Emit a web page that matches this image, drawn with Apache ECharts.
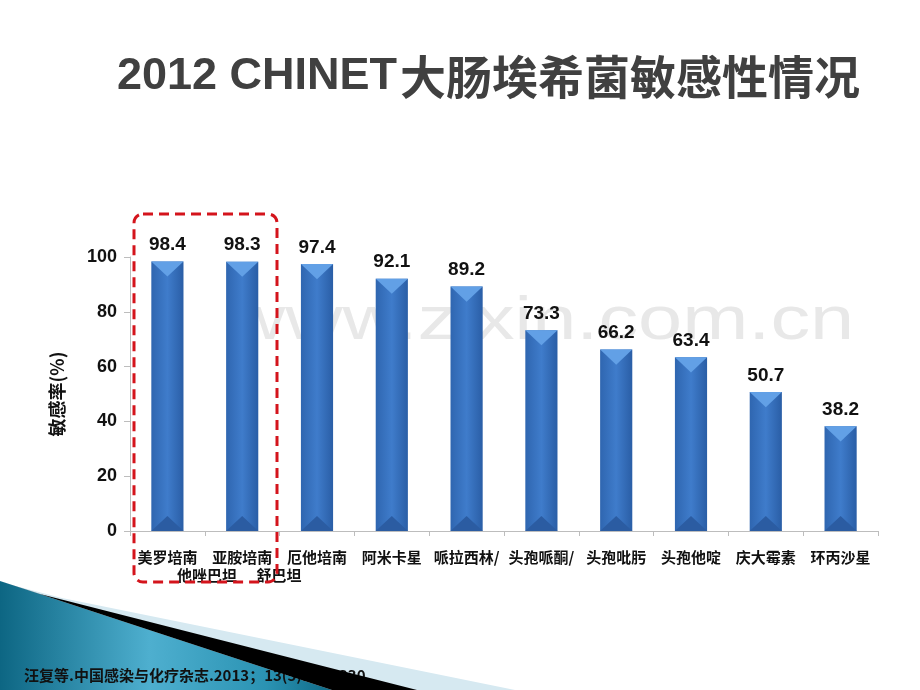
<!DOCTYPE html>
<html>
<head>
<meta charset="utf-8">
<script src="https://cdn.jsdelivr.net/npm/echarts@6/dist/echarts.min.js"></script>
<style>
html,body{margin:0;padding:0;background:#fff;}
#chart{width:920px;height:690px;}
</style>
</head>
<body>
<div id="chart"></div>
<script>
// ---- data ----
const categories = ['美罗培南','亚胺培南','厄他培南','阿米卡星','哌拉西林/','头孢哌酮/','头孢吡肟','头孢他啶','庆大霉素','环丙沙星'];
const values = [98.4, 98.3, 97.4, 92.1, 89.2, 73.3, 66.2, 63.4, 50.7, 38.2];
const labelContinuations = ['他唑巴坦', '舒巴坦'];
const yTicks = [0, 20, 40, 60, 80, 100];
const titleLatin = '2012 CHINET';
const titleCJK = '大肠埃希菌敏感性情况';
const yAxisName = '敏感率(%)';
const sourceText = '汪复等.中国感染与化疗杂志.2013；13(5):321-330';
const watermark = 'www.zixin.com.cn';

const FONT = '"Liberation Sans", Arial, "Noto Sans CJK SC", sans-serif';
const CJK = '"Noto Sans CJK SC", "Liberation Sans", sans-serif';

const chart = echarts.init(document.getElementById('chart'));

const seriesData = categories.map((c, i) => [c, values[i]]);

function renderBar(params, api) {
  const v = api.value(1);
  const idx = api.value(0);
  const top = api.coord([idx, v]);
  const base = api.coord([idx, 0]);
  const w = api.size([1, 0])[0] * 0.43;
  const x0 = top[0] - w / 2, x1 = top[0] + w / 2;
  const d = w * 0.47;
  return {
    type: 'group',
    children: [
      {
        type: 'rect',
        shape: { x: x0, y: top[1], width: w, height: base[1] - top[1] },
        style: {
          fill: new echarts.graphic.LinearGradient(0, 0, 1, 0, [
            { offset: 0, color: '#2f66b0' },
            { offset: 0.5, color: '#3f7ccb' },
            { offset: 1, color: '#2a5ea6' }
          ])
        }
      },
      {
        type: 'polygon',
        shape: { points: [[x0, top[1]], [x1, top[1]], [top[0], top[1] + d]] },
        style: { fill: '#62a0e6' }
      },
      {
        type: 'polygon',
        shape: { points: [[x0, base[1]], [x1, base[1]], [top[0], base[1] - d]] },
        style: { fill: '#2b5ca2' }
      },
      {
        type: 'text',
        style: {
          text: v.toFixed(1),
          x: top[0], y: top[1] - 7,
          align: 'center', verticalAlign: 'bottom',
          font: 'bold 19px ' + FONT,
          fill: '#111'
        }
      }
    ]
  };
}

const option = {
  backgroundColor: '#fff',
  animation: false,
  grid: { left: 130, right: 42, top: 257, bottom: 159, containLabel: false },
  xAxis: {
    type: 'category',
    data: categories,
    axisLine: { show: true, lineStyle: { color: '#bdbdbd', width: 1 } },
    axisTick: { show: true, length: 5, lineStyle: { color: '#bdbdbd' } },
    axisLabel: {
      interval: 0, margin: 19,
      color: '#111', fontSize: 15, fontWeight: 'bold', fontFamily: CJK
    }
  },
  yAxis: {
    type: 'value',
    min: 0, max: 100, interval: 20,
    name: yAxisName,
    nameLocation: 'middle',
    nameGap: 64,
    nameRotate: 90,
    nameTextStyle: { color: '#111', fontSize: 18, fontWeight: 'bold', fontFamily: CJK },
    axisLine: { show: true, lineStyle: { color: '#bdbdbd', width: 1 } },
    axisTick: { show: true, length: 6, lineStyle: { color: '#bdbdbd' } },
    splitLine: { show: false },
    axisLabel: {
      margin: 13, color: '#111', fontSize: 18, fontWeight: 'bold', fontFamily: FONT,
      formatter: v => yTicks.includes(v) ? String(v) : ''
    }
  },
  series: [{
    type: 'custom',
    z: 5,
    encode: { x: 0, y: 1 },
    data: seriesData,
    renderItem: renderBar
  }],
  graphic: [
    // watermark
    {
      type: 'text', x: 228, y: 322, z: 0, scaleX: 1.28,
      style: { text: watermark, font: '62px ' + FONT, fill: 'rgba(190,190,190,0.35)', verticalAlign: 'middle' }
    },
    // title
    {
      type: 'text', x: 117, y: 77, z: 10,
      style: { text: titleLatin, font: 'bold 45px ' + FONT, fill: '#404040', verticalAlign: 'middle' }
    },
    {
      type: 'text', x: 400, y: 77, z: 10,
      style: { text: titleCJK, font: 'bold 46px ' + CJK, fill: '#404040', verticalAlign: 'middle' }
    },
    // continuation labels
    {
      type: 'text', x: 207, y: 575, z: 10,
      style: { text: labelContinuations[0], font: 'bold 15px ' + CJK, fill: '#111', align: 'center', verticalAlign: 'middle' }
    },
    {
      type: 'text', x: 279, y: 575, z: 10,
      style: { text: labelContinuations[1], font: 'bold 15px ' + CJK, fill: '#111', align: 'center', verticalAlign: 'middle' }
    },
    // red dashed highlight box
    {
      type: 'rect', z: 20,
      shape: { x: 134, y: 214, width: 143, height: 368, r: 9 },
      style: { fill: 'none', stroke: '#d4141c', lineWidth: 3, lineDash: [10, 6] }
    },
    // bottom-left decoration
    {
      type: 'polygon', z: 30,
      shape: { points: [[62, 598], [515, 690], [0, 690], [0, 582]] },
      style: { fill: '#d6e9f1' }
    },
    {
      type: 'polygon', z: 31,
      shape: { points: [[0, 581], [332, 690], [0, 690]] },
      style: {
        fill: new echarts.graphic.LinearGradient(0, 0, 1, 0, [
          { offset: 0, color: '#0d6683' },
          { offset: 0.45, color: '#4eafcf' },
          { offset: 0.8, color: '#2b93b3' },
          { offset: 1, color: '#0f6a87' }
        ])
      }
    },
    {
      type: 'text', x: 24, y: 675, z: 32,
      style: { text: sourceText, font: 'bold 15px ' + CJK, fill: '#111', verticalAlign: 'middle' }
    },
    {
      type: 'polygon', z: 33,
      shape: { points: [[40, 594], [417, 690], [332, 690], [0, 581]] },
      style: { fill: '#000' }
    }
  ]
};

chart.setOption(option);
</script>
</body>
</html>
